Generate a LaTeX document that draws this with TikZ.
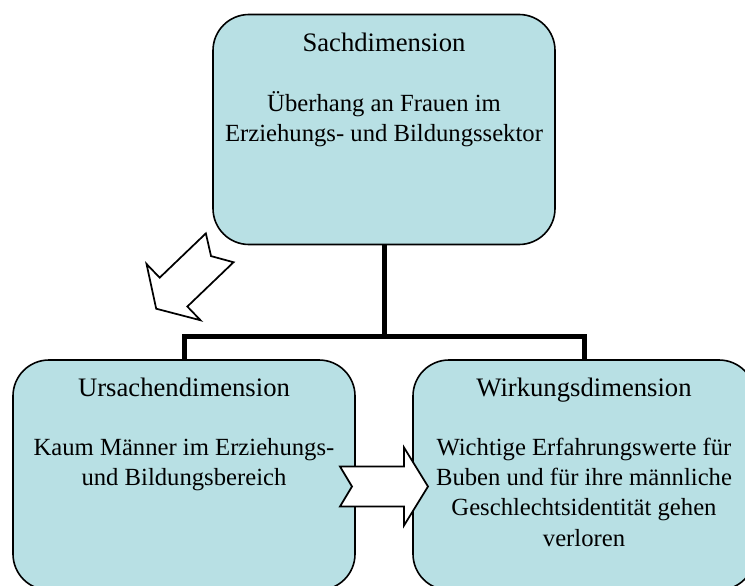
\documentclass[tikz,border=0pt]{standalone}
\usepackage{fontspec}
\setmainfont{Liberation Serif}
\usetikzlibrary{calc}

\definecolor{boxfill}{RGB}{184,224,228}

% centred lines whose baseline is that of the first line
\newcommand{\toplines}[1]{\begin{tabular}[t]{@{}c@{}}#1\end{tabular}}

\tikzset{
  dimbox/.style={draw, line width=1.2pt, fill=boxfill, rounded corners=27pt,
    minimum width=256.5pt, minimum height=172.5pt, inner sep=0pt},
  dimtitle/.style={font=\fontsize{20}{24}\selectfont, inner sep=0pt},
  dimbody/.style={font=\fontsize{18.5}{22.7}\selectfont, inner sep=0pt},
  tree/.style={line width=3.75pt, line join=miter},
  arrowline/.style={draw, line width=1.3pt, fill=white, line join=miter},
  blockarrow/.pic={
    \path[arrowline] (0,-20) -- (64,-20) -- (64,-39) -- (88,0) -- (64,39)
      -- (64,20) -- (0,20) -- (12,0) -- cycle;
  }
}

\begin{document}
\begin{tikzpicture}[x=0.75pt, y=-0.75pt]
  \useasboundingbox (0,0) rectangle (745,585);
  \clip (0,0) rectangle (745,585);

  % the three dimension boxes
  \node[dimbox] (sach) at (384,129.5) {};
  \node[dimbox] (ursache) at (184,475) {};
  \node[dimbox] (wirkung) at (584,475) {};

  % titles and descriptions
  \node[dimtitle, anchor=base] (sachT) at ($(sach.north)+(0,38)$) {Sachdimension};
  \node[dimbody, anchor=base] (sachB) at ($(sach.north)+(0,98)$)
    {\toplines{Überhang an Frauen im\\Erziehungs- und Bildungssektor}};

  \node[dimtitle, anchor=base] (ursacheT) at ($(ursache.north)+(0,37)$) {Ursachendimension};
  \node[dimbody, anchor=base] (ursacheB) at ($(ursache.north)+(0,96)$)
    {\toplines{Kaum Männer im Erziehungs-\\und Bildungsbereich}};

  \node[dimtitle, anchor=base] (wirkungT) at ($(wirkung.north)+(0,37)$) {Wirkungsdimension};
  \node[dimbody, anchor=base] (wirkungB) at ($(wirkung.north)+(0,96)$)
    {\toplines{Wichtige Erfahrungswerte für\\Buben und für ihre männliche\\Geschlechtsidentität gehen\\verloren}};

  % tree connector
  \coordinate (joint) at (384,336);
  \draw[tree] (sach.south) -- (joint);
  \draw[tree] (ursache.north) |- (joint) -| (wirkung.north);

  % block arrows
  \pic at (219.7,247.8) [rotate=223.8] {blockarrow};
  \pic at (340,486.5) {blockarrow};
\end{tikzpicture}
\end{document}
